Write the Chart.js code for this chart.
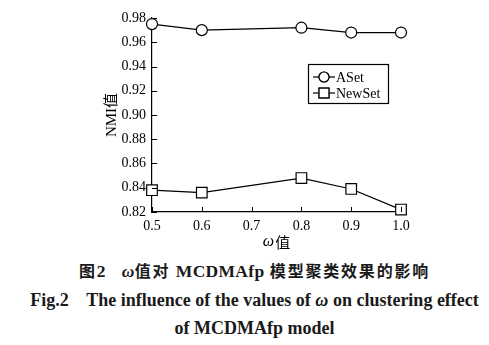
<!DOCTYPE html>
<html>
<head>
  <meta charset="UTF-8">
  <title>NMI vs omega</title>
  <script src="https://cdn.jsdelivr.net/npm/chart.js"></script>
  <style>
    body { margin: 0; background: #fff; width: 489px; height: 345px; position: relative; overflow: hidden; }
    #wrap { position: absolute; left: 0; top: 0; width: 489px; height: 252px; }
    .cap { position: absolute; left: 10px; width: 489px; text-align: center; color: #1a1a1a; font-weight: bold; white-space: pre; line-height: 22px; }
    #cap1 { top: 259px; font-family: "Noto Sans CJK SC", "Liberation Serif", serif; font-size: 16px; letter-spacing: 1.8px; }
    #cap1 .lat { font-family: "Liberation Serif", serif; font-size: 17.5px; letter-spacing: 0.3px; }
    #cap1 .gap { display: inline-block; width: 16px; }
    #cap2 { top: 289px; font-family: "Liberation Serif", serif; font-size: 18px; }
    #cap3 { top: 317px; font-family: "Liberation Serif", serif; font-size: 18px; }
    i { font-style: italic; }
  </style>
</head>
<body>
  <div id="wrap"><canvas id="nmiChart" width="489" height="252"></canvas></div>
  <div class="cap" id="cap1">图<span class="lat">2</span><span class="gap"></span><i class="lat">ω</i>值对 <span class="lat">MCDMAfp</span> 模型聚类效果的影响</div>
  <div class="cap" id="cap2">Fig.2    The influence of the values of <i>ω</i> on clustering effect</div>
  <div class="cap" id="cap3">of MCDMAfp model</div>

  <script>
    // omega values and NMI scores for the two data sets
    const omegaValues = [0.5, 0.6, 0.8, 0.9, 1.0];
    const asetNMI = [0.975, 0.970, 0.972, 0.968, 0.968];
    const newsetNMI = [0.838, 0.836, 0.848, 0.839, 0.822];
    const xTicks = [0.5, 0.6, 0.7, 0.8, 0.9, 1.0];
    const yTicks = [0.82, 0.84, 0.86, 0.88, 0.90, 0.92, 0.94, 0.96, 0.98];

    const serif = '"Liberation Serif", "Noto Sans CJK SC", serif';

    // short tick marks pointing into the plot
    const innerTicks = {
      id: 'innerTicks',
      afterDraw(chart) {
        const { ctx, chartArea, scales } = chart;
        ctx.save();
        ctx.strokeStyle = '#000';
        ctx.lineWidth = 1;
        scales.x.ticks.forEach(t => {
          const px = Math.round(scales.x.getPixelForValue(t.value)) + 0.5;
          ctx.beginPath();
          ctx.moveTo(px, chartArea.bottom);
          ctx.lineTo(px, chartArea.bottom - 5);
          ctx.stroke();
        });
        scales.y.ticks.forEach(t => {
          const py = Math.round(scales.y.getPixelForValue(t.value)) + 0.5;
          ctx.beginPath();
          ctx.moveTo(chartArea.left, py);
          ctx.lineTo(chartArea.left + 5, py);
          ctx.stroke();
        });
        ctx.restore();
      }
    };

    // x axis title: italic omega followed by an upright 值
    const xTitle = {
      id: 'xTitle',
      afterDraw(chart) {
        const { ctx, chartArea } = chart;
        const cx = (chartArea.left + chartArea.right) / 2;
        const cy = chartArea.bottom + 30;
        ctx.save();
        ctx.fillStyle = '#000';
        ctx.textBaseline = 'middle';
        ctx.font = 'italic 16px "Liberation Serif", serif';
        const w1 = ctx.measureText('ω').width;
        ctx.font = '15px "Noto Sans CJK SC", serif';
        const w2 = ctx.measureText('值').width;
        const x0 = cx - (w1 + w2 + 1) / 2;
        ctx.font = 'italic 16px "Liberation Serif", serif';
        ctx.fillText('ω', x0, cy);
        ctx.font = '15px "Noto Sans CJK SC", serif';
        ctx.fillText('值', x0 + w1 + 1, cy);
        ctx.restore();
      }
    };

    // boxed legend inside the plot area
    const boxLegend = {
      id: 'boxLegend',
      afterDraw(chart) {
        const ctx = chart.ctx;
        const bx = 308, by = 64, bw = 80, bh = 39;
        ctx.save();
        ctx.strokeStyle = '#000';
        ctx.lineWidth = 1.2;
        ctx.fillStyle = '#fff';
        ctx.fillRect(bx, by, bw, bh);
        ctx.strokeRect(bx + 0.5, by + 0.5, bw, bh);
        ctx.font = '14px ' + serif;
        ctx.textBaseline = 'middle';
        chart.data.datasets.forEach((ds, i) => {
          const cy = by + 13 + i * 16;
          ctx.beginPath();
          ctx.moveTo(bx + 5, cy);
          ctx.lineTo(bx + 27, cy);
          ctx.lineWidth = 1.2;
          ctx.strokeStyle = ds.borderColor;
          ctx.stroke();
          Chart.helpers.drawPoint(ctx, {
            pointStyle: ds.pointStyle,
            radius: ds.pointStyle === 'rect' ? 7 : 5,
            borderWidth: 1.2
          }, bx + 16, cy);
          ctx.fillStyle = '#fff';
          ctx.fill();
          ctx.stroke();
          ctx.fillStyle = '#000';
          ctx.fillText(ds.label, bx + 28, cy + 1);
        });
        ctx.restore();
      }
    };

    new Chart(document.getElementById('nmiChart'), {
      type: 'line',
      data: {
        labels: omegaValues,
        datasets: [
          {
            label: 'ASet',
            data: omegaValues.map((x, i) => ({ x: x, y: asetNMI[i] })),
            borderColor: '#000',
            borderWidth: 1.2,
            pointStyle: 'circle',
            pointRadius: 5.5,
            pointBorderWidth: 1.2,
            pointBackgroundColor: '#fff',
            pointBorderColor: '#000',
            fill: false,
            tension: 0
          },
          {
            label: 'NewSet',
            data: omegaValues.map((x, i) => ({ x: x, y: newsetNMI[i] })),
            borderColor: '#000',
            borderWidth: 1.2,
            pointStyle: 'rect',
            pointRadius: 7.5,
            pointBorderWidth: 1.2,
            pointBackgroundColor: '#fff',
            pointBorderColor: '#000',
            fill: false,
            tension: 0
          }
        ]
      },
      options: {
        responsive: false,
        animation: false,
        clip: false,
        layout: { padding: { left: 98, top: 18, right: 88, bottom: 2 } },
        plugins: { legend: { display: false }, tooltip: { enabled: false } },
        scales: {
          x: {
            type: 'linear',
            min: 0.5,
            max: 1.0,
            afterBuildTicks: s => { s.ticks = xTicks.map(v => ({ value: v })); },
            afterFit: s => { s.height = 38; },
            grid: { display: false, drawTicks: false },
            border: { display: true, color: '#000', width: 1.2 },
            ticks: {
              padding: 6,
              color: '#000',
              font: { family: serif, size: 14 },
              maxRotation: 0,
              callback: v => v.toFixed(1)
            }
          },
          y: {
            min: 0.82,
            max: 0.98,
            afterBuildTicks: s => { s.ticks = yTicks.map(v => ({ value: v })); },
            afterFit: s => { s.width = 54; },
            grid: { display: false, drawTicks: false },
            border: { display: true, color: '#000', width: 1.2 },
            ticks: {
              padding: 6,
              color: '#000',
              font: { family: serif, size: 14 },
              callback: v => v.toFixed(2)
            },
            title: {
              display: true,
              text: 'NMI值',
              color: '#000',
              font: { family: serif, size: 15 },
              padding: { top: 5, bottom: 0 }
            }
          }
        }
      },
      plugins: [innerTicks, xTitle, boxLegend]
    });
  </script>
</body>
</html>
